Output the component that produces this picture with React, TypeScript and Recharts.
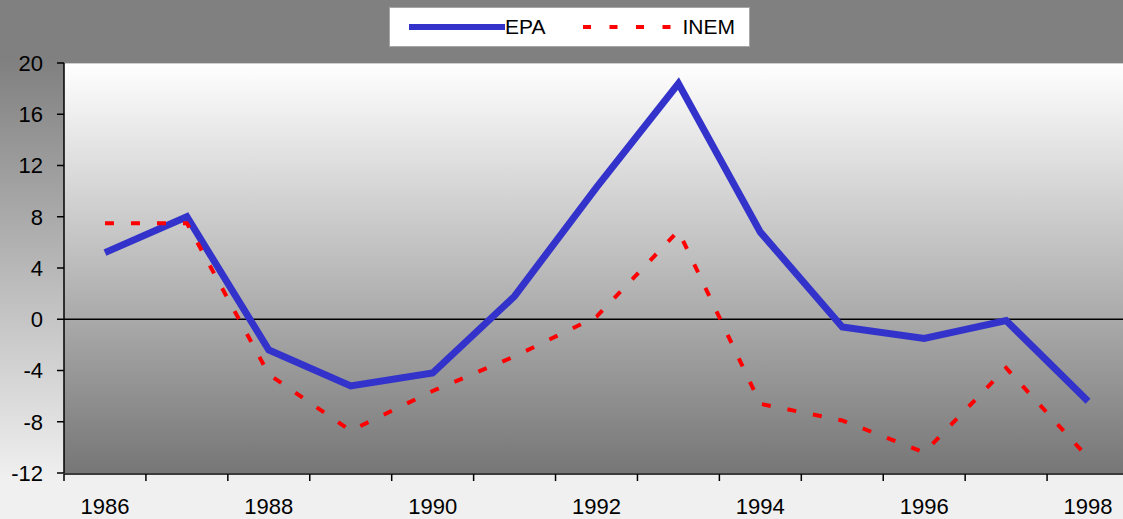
import { JSX } from "react";
import {
  LineChart,
  Line,
  XAxis,
  YAxis,
  ReferenceLine,
  Legend,
} from "recharts";

const years = [1986, 1987, 1988, 1989, 1990, 1991, 1992, 1993, 1994, 1995, 1996, 1997, 1998];
const epa = [5.2, 8.0, -2.4, -5.2, -4.2, 1.8, 10.3, 18.4, 6.8, -0.6, -1.5, -0.1, -6.4];
const inem = [7.5, 7.5, -4.3, -8.7, -5.6, -2.9, 0.2, 6.9, -6.6, -7.9, -10.4, -3.8, -10.8];
const yTicks = [-12, -8, -4, 0, 4, 8, 12, 16, 20];
const labelYears = [1986, 1988, 1990, 1992, 1994, 1996, 1998];
const boundaryTicks = [...years.map((y) => y - 0.5), 1998.5];

const data = years.map((year, i) => ({ year, EPA: epa[i], INEM: inem[i] }));

const font = "'Liberation Sans', Arial, sans-serif";

const LegendBox = (): JSX.Element => (
  <div
    style={{
      width: 361,
      height: 40,
      boxSizing: "border-box",
      background: "#fff",
      border: "1px solid #a6a6a6",
      display: "flex",
      alignItems: "center",
      paddingLeft: 19,
      fontFamily: font,
      fontSize: 21,
      color: "#000",
    }}
  >
    <svg width={96} height={10}>
      <line x1={0} y1={5} x2={96} y2={5} stroke="#3333cc" strokeWidth={6} />
    </svg>
    <span>EPA</span>
    <svg width={90} height={10} style={{ marginLeft: 38 }}>
      <line x1={0} y1={5} x2={90} y2={5} stroke="#ff0000" strokeWidth={4} strokeDasharray="8 18.5" />
    </svg>
    <span style={{ marginLeft: 9 }}>INEM</span>
  </div>
);

// tick mark only, no label
const MarkOnly = (): JSX.Element => <g />;

export default function App(): JSX.Element {
  return (
    <div
      style={{
        position: "absolute",
        left: 0,
        top: 0,
        width: 1123,
        height: 519,
        overflow: "hidden",
        background: "linear-gradient(#808080 0px, #808080 60px, #f0f0f0 480px)",
      }}
    >
      {/* plot area backdrop */}
      <div
        style={{
          position: "absolute",
          left: 64,
          top: 63,
          width: 1065,
          height: 410,
          borderTop: "1px solid #d0d0d0",
          boxSizing: "border-box",
          background: "linear-gradient(#ffffff, #767676)",
        }}
      />
      <LineChart
        width={1140}
        height={519}
        data={data}
        margin={{ top: 63, right: 11, bottom: 0, left: 0 }}
        style={{ position: "absolute", left: 0, top: 0 }}
      >
        {/* labels axis sits nearest the plot; the tick-mark axis just below it */}
        <XAxis
          xAxisId="labels"
          dataKey="year"
          type="number"
          domain={[1985.5, 1998.5]}
          ticks={labelYears}
          height={1}
          axisLine={false}
          tickLine={false}
          tickSize={0}
          tickMargin={25}
          tick={{ fill: "#000", fontSize: 22, fontFamily: font }}
          allowDataOverflow
        />
        <XAxis
          xAxisId="marks"
          dataKey="year"
          type="number"
          domain={[1985.5, 1998.5]}
          ticks={boundaryTicks}
          height={45}
          stroke="#000"
          strokeWidth={1.5}
          tickSize={7}
          tick={MarkOnly}
          allowDataOverflow
        />
        <YAxis
          domain={[-12, 20]}
          ticks={yTicks}
          width={64}
          stroke="#000"
          strokeWidth={1.5}
          tickSize={7}
          tickMargin={14}
          tick={{ fill: "#000", fontSize: 22, fontFamily: font }}
          allowDataOverflow
        />
        <ReferenceLine y={0} xAxisId="marks" stroke="#000" strokeWidth={1.5} />
        <Legend
          layout="horizontal"
          verticalAlign="middle"
          align="center"
          content={() => <LegendBox />}
          wrapperStyle={{ top: 7, left: 389, width: 361 }}
        />
        <Line
          xAxisId="marks"
          type="linear"
          dataKey="EPA"
          stroke="#3333cc"
          strokeWidth={7}
          dot={false}
          isAnimationActive={false}
        />
        <Line
          xAxisId="marks"
          type="linear"
          dataKey="INEM"
          stroke="#ff0000"
          strokeWidth={4}
          strokeDasharray="9 17"
          dot={false}
          isAnimationActive={false}
        />
      </LineChart>
    </div>
  );
}
